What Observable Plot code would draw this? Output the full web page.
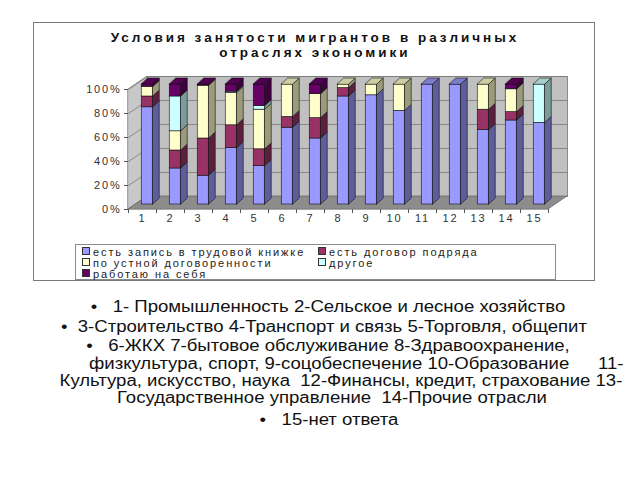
<!DOCTYPE html>
<html><head><meta charset="utf-8">
<script src="https://cdn.jsdelivr.net/npm/d3@7"></script>
<script src="https://cdn.jsdelivr.net/npm/@observablehq/plot@0.6"></script>
<style>
html,body{margin:0;padding:0;background:#fff;width:640px;height:480px;overflow:hidden;font-family:"Liberation Sans",Arial,sans-serif;}
#box{position:absolute;left:33px;top:22px;width:562px;height:259px;border:1px solid #7a7a7a;box-sizing:border-box;}
.tt{position:absolute;left:0;width:630px;text-align:center;font-weight:bold;font-size:13.5px;letter-spacing:3px;line-height:14px;color:#111;white-space:nowrap;}
#plot{position:absolute;left:0;top:0;}
#legend{position:absolute;left:75px;top:244px;width:481px;height:36px;border:1px solid #8a8a8a;box-sizing:border-box;font-size:11px;letter-spacing:1.9px;color:#222;}
.li{position:absolute;white-space:nowrap;line-height:11px;}
.sw{display:inline-block;width:6px;height:6px;border:1px solid #333;margin-right:3px;vertical-align:1px;letter-spacing:0;}
.bl{position:absolute;white-space:pre;font-size:16px;line-height:17px;color:#111;}
.bc{width:900px;text-align:center;transform:scaleX(1.16);transform-origin:center;}
.bp{transform:scaleX(1.16);transform-origin:left center;}
#plot svg text{letter-spacing:1.8px;}
</style></head>
<body>
<div id="box"></div>
<div id="plot"></div>
<div id="titles"></div>
<div id="legend"></div>
<div id="bullets"></div>
<script>
// ---- data ----
const titleLines = ["Условия занятости мигрантов в различных", "отраслях экономики"];
const categories = [1,2,3,4,5,6,7,8,9,10,11,12,13,14,15];
const seriesNames = ["есть запись в трудовой книжке","есть договор подряда","по устной договоренности","другое","работаю на себя"];
const trudKnizhka = [81,30,24,47,32,64,55,90,91,78,100,100,62,70,68];
const dogovorPodryada = [9,15,31,19,14,9,17,7,0,0,0,0,17,7,0];
const ustnaya = [8,16,44,27,33,27,20,3,9,22,0,0,21,19,0];
const drugoe = [0,29,0,1,3,0,0,0,0,0,0,0,0,0,32];
const naSebya = [2,10,1,6,18,0,8,0,0,0,0,0,0,4,0];
const yTicks = [0,20,40,60,80,100];
const bulletLines = [
  "•   1- Промышленность 2-Сельское и лесное хозяйство",
  "•  3-Строительство 4-Транспорт и связь 5-Торговля, общепит",
  "•   6-ЖКХ 7-бытовое обслуживание 8-Здравоохранение,",
  "физкультура, спорт, 9-соцобеспечение 10-Образование",
  "11-",
  "Культура, искусство, наука  12-Финансы, кредит, страхование 13-",
  "Государственное управление  14-Прочие отрасли",
  "•   15-нет ответа"
];

// ---- styles ----
const colors = ["#9999ff","#993366","#ffffcc","#ccffff","#660066"];
const sideColors = colors.map(c => d3.color(c).darker(1.4).formatHex());
const topColors = colors.map(c => d3.color(c).darker(0.6).formatHex());
const values = [trudKnizhka, dogovorPodryada, ustnaya, drugoe, naSebya];

const W = 640, H = 240, mL = 128, mR = 92, mT = 89, mB = 31;
const kx = (W - mL - mR) / categories.length; // px per category
const ky = (H - mT - mB) / 100;              // px per percent
const wx = 19 / kx, wy = 13 / ky;            // wall depth
const bw = 11.5 / kx, bx = 6.5 / kx, by = 6 / ky; // bar width & depth
const x0 = 0.5, x1 = categories.length + 0.5;

// build stacked segments
const segs = [];
categories.forEach((c, i) => {
  let lo = 0;
  let last = null;
  values.forEach((arr, s) => {
    const v = arr[i];
    if (v > 0) {
      const seg = {c, s, lo, hi: lo + v, id: c + "-" + s};
      segs.push(seg); last = seg;
      lo += v;
    }
  });
  if (last) last.top = true;
});
const sidePts = segs.flatMap(d => [
  {id: d.id, x: d.c + bw/2, y1: d.lo, y2: d.hi, fill: sideColors[d.s]},
  {id: d.id, x: d.c + bw/2 + bx, y1: d.lo + by, y2: d.hi + by, fill: sideColors[d.s]}
]);
const topPts = segs.filter(d => d.top).flatMap(d => [
  {id: d.id, y: d.hi, xa: d.c - bw/2, xb: d.c + bw/2, fill: topColors[d.s]},
  {id: d.id, y: d.hi + by, xa: d.c - bw/2 + bx, xb: d.c + bw/2 + bx, fill: topColors[d.s]}
]);

const barOpt = {stroke: "#111", strokeWidth: 0.6, dx: 5, dy: -5};

const chart = Plot.plot({
  width: W, height: H,
  marginLeft: mL, marginRight: mR, marginTop: mT, marginBottom: mB,
  style: {background: "transparent", fontFamily: "Liberation Sans, Arial, sans-serif", fontSize: "11px", color: "#333"},
  x: {type: "linear", domain: [x0, x1]},
  y: {domain: [0, 100]},
  color: {type: "identity"},
  marks: [
    Plot.frame({fill: "#c0c0c0", stroke: "#8a8a8a", dx: 19, dy: -13}),
    Plot.ruleY(yTicks, {stroke: "#7a7a7a", strokeWidth: 0.8, dx: 19, dy: -13}),
    Plot.areaY([{x: x0, y1: 0, y2: 100}, {x: x0 + wx, y1: wy, y2: 100 + wy}],
      {x: "x", y1: "y1", y2: "y2", fill: "#c8c8c8", stroke: "#7a7a7a", strokeWidth: 0.8}),
    Plot.link(yTicks, {x1: x0, y1: d => d, x2: x0 + wx, y2: d => d + wy, stroke: "#7a7a7a", strokeWidth: 0.8}),
    Plot.areaX([{y: 0, a: x0, b: x1}, {y: wy, a: x0 + wx, b: x1 + wx}],
      {y: "y", x1: "a", x2: "b", fill: "#8c8c8c", stroke: "#6a6a6a", strokeWidth: 0.8}),
    Plot.rect(segs, {x1: d => d.c - bw/2, x2: d => d.c + bw/2, y1: "lo", y2: "hi", fill: d => colors[d.s], ...barOpt}),
    Plot.areaY(sidePts, {x: "x", y1: "y1", y2: "y2", z: "id", fill: "fill", ...barOpt}),
    Plot.areaX(topPts, {y: "y", x1: "xa", x2: "xb", z: "id", fill: "fill", ...barOpt}),
    Plot.axisY({ticks: yTicks, tickFormat: d => d + "%", tickSize: 4, tickPadding: 3, label: null, fontSize: 11, stroke: "#555"}),
    Plot.axisX({ticks: categories, tickSize: 0, tickPadding: 5, tickFormat: d => String(d), label: null, fontSize: 11}),
    Plot.axisX({ticks: d3.range(x0, x1 + 0.01, 1), tickSize: 4, tickFormat: () => "", label: null, stroke: "#555"})
  ]
});
document.getElementById("plot").appendChild(chart);

// title lines
const titleMid = [38, 53];
const tt = document.getElementById("titles");
titleLines.forEach((t, i) => {
  const el = document.createElement("div");
  el.className = "tt";
  el.style.top = (titleMid[i] - 7) + "px";
  el.textContent = t;
  tt.appendChild(el);
});

// legend (HTML)
const legendPos = [[6,4],[242,4],[6,15],[242,15],[6,26]];
const lg = document.getElementById("legend");
seriesNames.forEach((n, i) => {
  const el = document.createElement("div");
  el.className = "li";
  el.style.left = legendPos[i][0] + "px";
  el.style.top = (legendPos[i][1] - 2) + "px";
  el.innerHTML = `<span class="sw" style="background:${colors[i]}"></span>${n}`;
  lg.appendChild(el);
});

// bullets: centered lines (c) or left-placed pieces (l)
const linePlace = [{c: 328}, {c: 324}, {c: 328}, {l: 89}, {l: 598}, {c: 341}, {c: 332}, {c: 329}];
const lineMid = [306, 326, 345, 363, 363, 380, 397, 419];
const bb = document.getElementById("bullets");
bulletLines.forEach((t, i) => {
  const el = document.createElement("div");
  const p = linePlace[i];
  el.className = "bl " + (p.c !== undefined ? "bc" : "bp");
  el.style.left = (p.c !== undefined ? p.c - 450 : p.l) + "px";
  el.style.top = (lineMid[i] - 8.5) + "px";
  el.textContent = t;
  bb.appendChild(el);
});
</script>
</body></html>
